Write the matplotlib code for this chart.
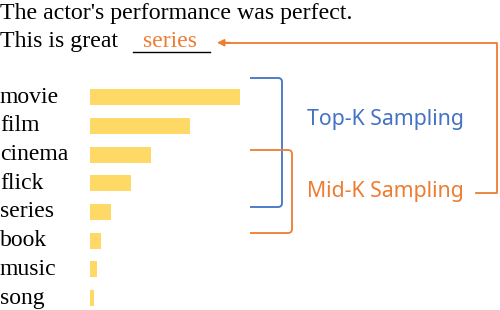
import matplotlib.pyplot as plt
import matplotlib.transforms as mtransforms
from matplotlib.path import Path
from matplotlib.patches import PathPatch

# candidate words and their probabilities
words = ['movie', 'film', 'cinema', 'flick', 'series', 'book', 'music', 'song']
probs = [0.300, 0.200, 0.122, 0.082, 0.042, 0.022, 0.014, 0.008]

sentence1 = "The actor's performance was perfect."
sentence2 = "This is great"
blank_word = 'series'
top_label = 'Top-K Sampling'
mid_label = 'Mid-K Sampling'

BAR = '#FFD966'
BLUE = '#4472C4'
ORANGE = '#ED7D31'
W, H = 500, 310
SERIF = 'Liberation Serif'

fig = plt.figure(figsize=(5, 3.1), dpi=100)

# bar axes, placed in pixel terms
ax = fig.add_axes([90 / W, (H - 312.4) / H, 150 / W, 229.6 / H])
ax.barh(range(len(words)), probs, height=0.56, color=BAR)
ax.set_xlim(0, max(probs))
ax.set_ylim(len(words) - 0.5, -0.5)
ax.axis('off')

trans = mtransforms.blended_transform_factory(fig.transFigure, ax.transData)
for i, w in enumerate(words):
    ax.text(0.0, i + 0.19, w, transform=trans, ha='left', va='baseline',
            family=SERIF, fontsize=17, clip_on=False)

# overlay in pixel coords for text and brackets
ov = fig.add_axes([0, 0, 1, 1], zorder=-1)
ov.set_xlim(0, W)
ov.set_ylim(H, 0)
ov.axis('off')

ov.text(0, 18.5, sentence1, family=SERIF, fontsize=17.2, ha='left', va='baseline')
ov.text(0, 47, sentence2, family=SERIF, fontsize=17.2, ha='left', va='baseline')
ov.plot([133, 210], [52, 52], color='black', lw=1.0)
ov.text(170, 47, blank_word, family=SERIF, fontsize=17,
        color=ORANGE, ha='center', va='baseline')


def bracket(x0, x1, y0, y1, color, r=4):
    verts = [(x0, y0), (x1 - r, y0), (x1, y0), (x1, y0 + r),
             (x1, y1 - r), (x1, y1), (x1 - r, y1), (x0, y1)]
    codes = [Path.MOVETO, Path.LINETO, Path.CURVE3, Path.CURVE3,
             Path.LINETO, Path.CURVE3, Path.CURVE3, Path.LINETO]
    ov.add_patch(PathPatch(Path(verts, codes), fill=False, ec=color, lw=1.3))


bracket(250, 282, 78, 207, BLUE)
bracket(250, 292, 150, 233, ORANGE)

ov.text(307, 125, top_label, family='Noto Sans', fontsize=15.3,
        color=BLUE, ha='left', va='baseline')
ov.text(307, 197.5, mid_label, family='Noto Sans', fontsize=15.3,
        color=ORANGE, ha='left', va='baseline')

# arrow from Mid-K back to the blank
ov.plot([476, 497, 497, 226], [193, 193, 42.7, 42.7], color=ORANGE, lw=1.3)
ov.annotate('', xy=(217, 42.7), xytext=(230, 42.7),
            arrowprops=dict(arrowstyle='-|>', color=ORANGE, lw=1.3,
                            mutation_scale=10, shrinkA=0, shrinkB=0))

fig.savefig('out.png', dpi=100)
